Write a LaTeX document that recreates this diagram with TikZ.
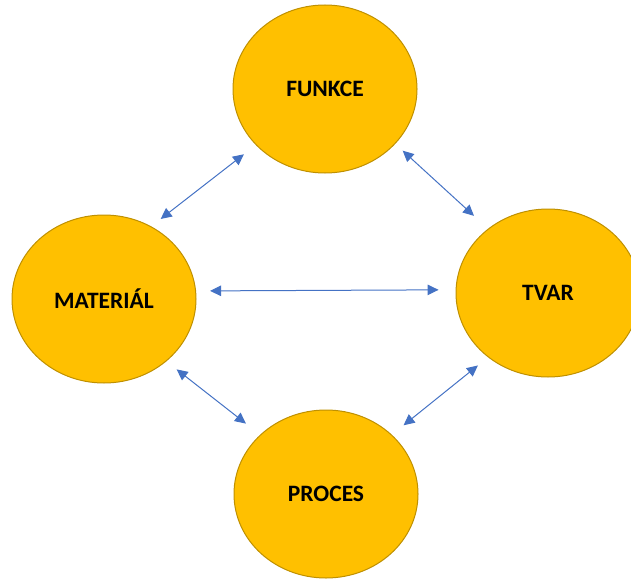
\documentclass[tikz,border=0pt]{standalone}
\usepackage{fontspec}
\setmainfont{Carlito}
\usetikzlibrary{arrows.meta,shapes.geometric}
\definecolor{gold}{HTML}{FFC000}
\definecolor{golddark}{HTML}{BF9000}
\definecolor{linkblue}{HTML}{4472C4}
\begin{document}
\begin{tikzpicture}[x=1pt, y=-1pt,
	every node/.style={ellipse, draw=golddark, fill=gold, line width=1pt, minimum width=184pt, minimum height=168pt, inner sep=0pt, font=\fontsize{23.5}{27}\selectfont\bfseries},
	link/.style={draw=linkblue, line width=1pt, {Triangle[length=11pt,width=10.5pt]}-{Triangle[length=11pt,width=10.5pt]}}]
		\useasboundingbox (0,0) rectangle (631,578);
		
		\node (funkce) at (325,89) {FUNKCE};
		\node (material) at (104,299) {MATERIÁL};
		\node (tvar) at (548,293) {TVAR};
		\node (proces) at (326,494) {PROCES};
		
		\draw[link, shorten <=15pt, shorten >=12pt] (funkce.219.5) to (material.57.4);
		\draw[link, shorten <=10pt, shorten >=19pt] (funkce.322.4) to (tvar.133.1);
		\draw[link, shorten <=14pt, shorten >=17pt] (material.5) to (tvar.178.75);
		\draw[link, shorten <=13pt, shorten >=18pt] (material.315) to (proces.138);
		\draw[link, shorten <=13pt, shorten >=15pt] (tvar.227.4) to (proces.42.6);
		
	\end{tikzpicture}
\end{document}
